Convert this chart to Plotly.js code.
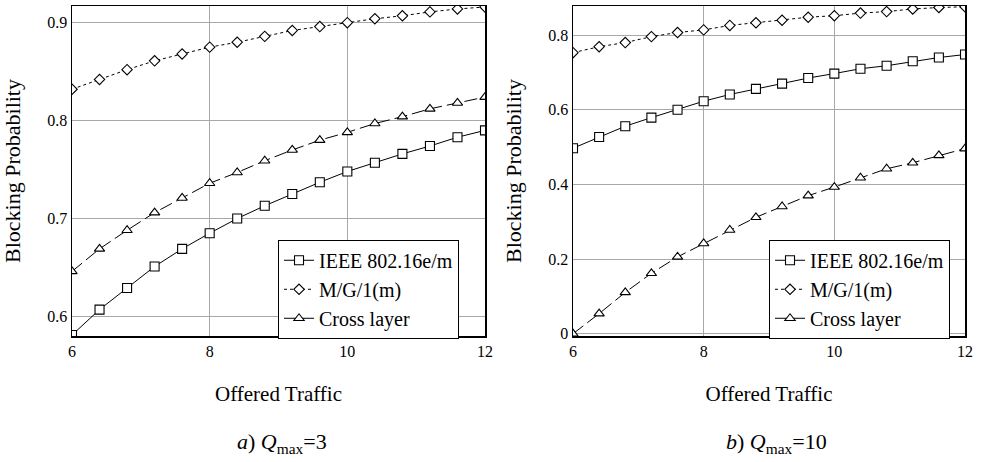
<!DOCTYPE html>
<html>
<head>
<meta charset="utf-8">
<script src="https://cdn.plot.ly/plotly-3.0.1.min.js"></script>
<style>html,body{margin:0;padding:0;background:#fff;}#chart{width:981px;height:462px;}</style>
</head>
<body>
<div id="chart"></div>
<script>
// Offered traffic (x values)
const traffic = [6, 6.4, 6.8, 7.2, 7.6, 8, 8.4, 8.8, 9.2, 9.6, 10, 10.4, 10.8, 11.2, 11.6, 12];

// a) Qmax = 3
const qa_ieee  = [0.581,0.607,0.629,0.651,0.669,0.685,0.700,0.713,0.725,0.737,0.748,0.757,0.766,0.774,0.783,0.790];
const qa_mg1   = [0.832,0.842,0.852,0.861,0.868,0.875,0.880,0.886,0.892,0.896,0.900,0.904,0.907,0.911,0.914,0.916];
const qa_cross = [0.646,0.669,0.688,0.706,0.721,0.736,0.747,0.759,0.770,0.780,0.788,0.797,0.804,0.812,0.818,0.824];

// b) Qmax = 10
const qb_ieee  = [0.497,0.527,0.556,0.579,0.600,0.623,0.641,0.656,0.670,0.685,0.697,0.710,0.718,0.730,0.740,0.748];
const qb_mg1   = [0.753,0.769,0.780,0.796,0.807,0.814,0.826,0.833,0.840,0.848,0.852,0.859,0.863,0.870,0.874,0.876];
const qb_cross = [0.000,0.054,0.111,0.162,0.206,0.242,0.278,0.312,0.341,0.370,0.393,0.418,0.442,0.458,0.478,0.496];

const seriesNames = ['IEEE 802.16e/m', 'M/G/1(m)', 'Cross layer'];
const xTitle = 'Offered Traffic';
const yTitle = 'Blocking Probability';
const captions = ['<i>a</i>) <i>Q</i><sub>max</sub>=3', '<i>b</i>) <i>Q</i><sub>max</sub>=10'];

const FONT = '"Liberation Serif", "Times New Roman", serif';
const styles = [
  {dash: 'solid', symbol: 'square', size: 9},
  {dash: '3px,3px', symbol: 'diamond', size: 8},
  {dash: '13px,5px', symbol: 'triangle-up', size: 9}
];

function mk(y, i, xa, ya, lg) {
  return {
    x: traffic, y: y, name: seriesNames[i], type: 'scatter', mode: 'lines+markers',
    xaxis: xa, yaxis: ya, legend: lg,
    line: {color: '#000', width: 1, dash: styles[i].dash},
    marker: {symbol: styles[i].symbol, size: styles[i].size, color: '#fff', line: {color: '#000', width: 1.1}}
  };
}

const data = [
  mk(qa_ieee, 0, 'x', 'y', 'legend'),
  mk(qa_mg1, 1, 'x', 'y', 'legend'),
  mk(qa_cross, 2, 'x', 'y', 'legend'),
  mk(qb_ieee, 0, 'x2', 'y2', 'legend2'),
  mk(qb_mg1, 1, 'x2', 'y2', 'legend2'),
  mk(qb_cross, 2, 'x2', 'y2', 'legend2')
];

function xax(domain, anchor) {
  return {
    domain: domain, anchor: anchor, range: [6, 12], dtick: 2, tick0: 6,
    showgrid: true, gridcolor: '#a8a8a8', gridwidth: 1,
    showline: true, linecolor: '#000', linewidth: 1.5, mirror: true,
    ticks: '', ticklabelstandoff: 0,
    tickfont: {family: FONT, size: 16, color: '#000'},
    zeroline: false,
    title: {text: xTitle, font: {family: FONT, size: 21, color: '#000'}, standoff: 27}
  };
}
function yax(domain, anchor, range, dtick) {
  return {
    domain: domain, anchor: anchor, range: range, dtick: dtick,
    showgrid: true, gridcolor: '#a8a8a8', gridwidth: 1,
    showline: true, linecolor: '#000', linewidth: 1.5, mirror: true,
    ticks: '', zeroline: false,
    tickfont: {family: FONT, size: 16, color: '#000'},
    title: {text: yTitle, font: {family: FONT, size: 22, color: '#000'}, standoff: 20}
  };
}

const legendStyle = (x) => ({
  x: x, y: 0.481, xanchor: 'left', yanchor: 'top',
  bgcolor: '#fff', bordercolor: '#000', borderwidth: 1,
  font: {family: FONT, size: 20, color: '#000'},
  tracegroupgap: 0, itemwidth: 30
});

const yDom = [0.2727, 0.987];
const layout = {
  width: 981, height: 462,
  margin: {l: 0, r: 0, t: 0, b: 0},
  paper_bgcolor: '#fff', plot_bgcolor: '#fff',
  font: {family: FONT, color: '#000'},
  xaxis: xax([0.0734, 0.4944], 'y'),
  yaxis: yax(yDom, 'x', [0.58, 0.917], 0.1),
  xaxis2: xax([0.5841, 0.9837], 'y2'),
  yaxis2: yax(yDom, 'x2', [-0.006, 0.878], 0.2),
  legend: legendStyle(0.2834),
  legend2: legendStyle(0.7839),
  annotations: [
    {text: captions[0], xref: 'paper', yref: 'paper', x: 0.2875, y: (462 - 443) / 462, xanchor: 'center', yanchor: 'middle', showarrow: false, font: {family: FONT, size: 22, color: '#000'}},
    {text: captions[1], xref: 'paper', yref: 'paper', x: 0.792, y: (462 - 443) / 462, xanchor: 'center', yanchor: 'middle', showarrow: false, font: {family: FONT, size: 22, color: '#000'}}
  ]
};

Plotly.newPlot('chart', data, layout, {staticPlot: true, displayModeBar: false});
</script>
</body>
</html>
